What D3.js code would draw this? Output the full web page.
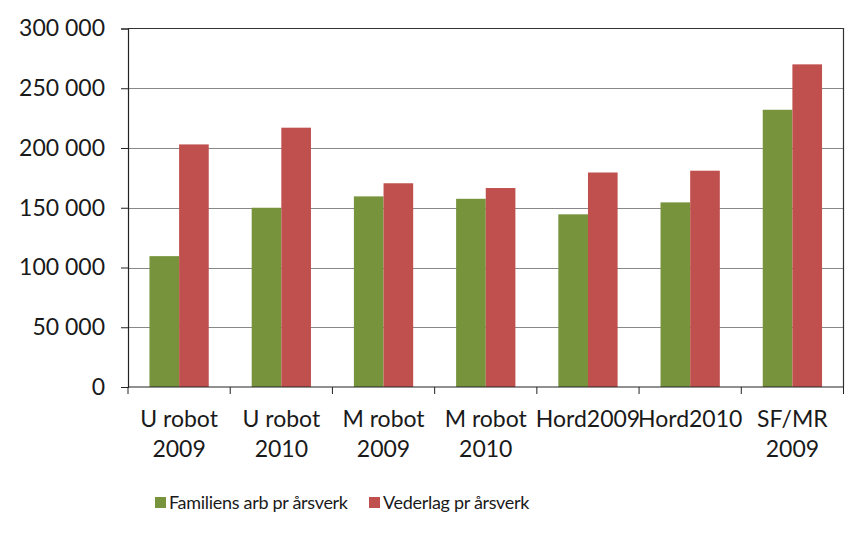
<!DOCTYPE html>
<html><head><meta charset="utf-8">
<script src="https://cdn.jsdelivr.net/npm/d3@7"></script>
<style>body{margin:0;background:#fff}svg{display:block}text{font-family:Lato,"Liberation Sans",Arial,sans-serif;fill:#1a1a1a}</style>
</head><body><svg id="c" width="866" height="542"></svg>
<script>
const categories = [["U robot","2009"],["U robot","2010"],["M robot","2009"],["M robot","2010"],["Hord2009"],["Hord2010"],["SF/MR","2009"]];
const seriesNames = ["Familiens arb pr årsverk","Vederlag pr årsverk"];
const familiens = [109500,150000,159500,157500,144500,154500,232000];
const vederlag = [203000,217000,170500,166500,179500,181000,270000];
const yTicks = [0,50000,100000,150000,200000,250000,300000];
const colors = ["#77933C","#C0504D"];

const svg = d3.select("#c");
const L=128,R=843.5,T=28.5,B=387;
const FS="23px";
const idx = d3.range(categories.length);
const x0 = d3.scaleBand().domain(idx).range([L,R]).paddingInner(0.42).paddingOuter(0.21);
const x1 = d3.scaleBand().domain([0,1]).range([0,x0.bandwidth()]);
const y = d3.scaleLinear().domain([0,300000]).range([B,T]);
const fmt = v => d3.format(",")(v).replace(/,/g," ");

svg.append("g").selectAll("line").data(yTicks.slice(1,-1)).join("line")
  .attr("x1",L).attr("x2",R).attr("y1",d=>Math.round(y(d))+0.5).attr("y2",d=>Math.round(y(d))+0.5)
  .attr("stroke","#888").attr("stroke-width",1);
svg.append("path").attr("d",`M${L},${T}H${R}V${B}`).attr("fill","none").attr("stroke","#333").attr("stroke-width",1.2);

const data = [familiens,vederlag];
data.forEach((vals,s)=>{
  svg.append("g").selectAll("rect").data(idx).join("rect")
    .attr("x",i=>x0(i)+x1(s)).attr("width",x1.bandwidth())
    .attr("y",i=>y(vals[i])).attr("height",i=>B-y(vals[i]))
    .attr("fill",colors[s]);
});

const ya = svg.append("g").attr("transform",`translate(${L},0)`)
  .call(d3.axisLeft(y).tickValues(yTicks).tickFormat(fmt).tickSize(7).tickPadding(16));
ya.select(".domain").attr("stroke","#222").attr("stroke-width",1.2);
ya.selectAll(".tick line").attr("stroke","#222");
ya.selectAll("text").style("font-size",FS).style("font-family","Lato").attr("fill","#1a1a1a");

const xa = svg.append("g").attr("transform",`translate(0,${B})`);
xa.append("line").attr("x1",L).attr("x2",R).attr("y1",0).attr("y2",0).attr("stroke","#222").attr("stroke-width",1.2);
const step = x0.step();
xa.selectAll("line.t").data(d3.range(categories.length+1)).join("line").attr("class","t")
  .attr("x1",i=>L+i*step).attr("x2",i=>L+i*step).attr("y1",0).attr("y2",7).attr("stroke","#222");
xa.selectAll("text").data(idx).join("text")
  .attr("text-anchor","middle").style("font-size",FS)
  .attr("transform",i=>`translate(${x0(i)+x0.bandwidth()/2},0)`)
  .each(function(i){
    const t=d3.select(this);
    categories[i].forEach((ln,k)=>t.append("tspan").attr("x",0).attr("y",40+k*30).text(ln));
  });

const leg = svg.append("g");
const lx=[155,369];
seriesNames.forEach((n,s)=>{
  leg.append("rect").attr("x",lx[s]).attr("y",497).attr("width",11).attr("height",11).attr("fill",colors[s]);
  leg.append("text").attr("x",lx[s]+14).attr("y",509).style("font-size","18px").style("letter-spacing","-0.3px").text(n);
});
</script></body></html>
